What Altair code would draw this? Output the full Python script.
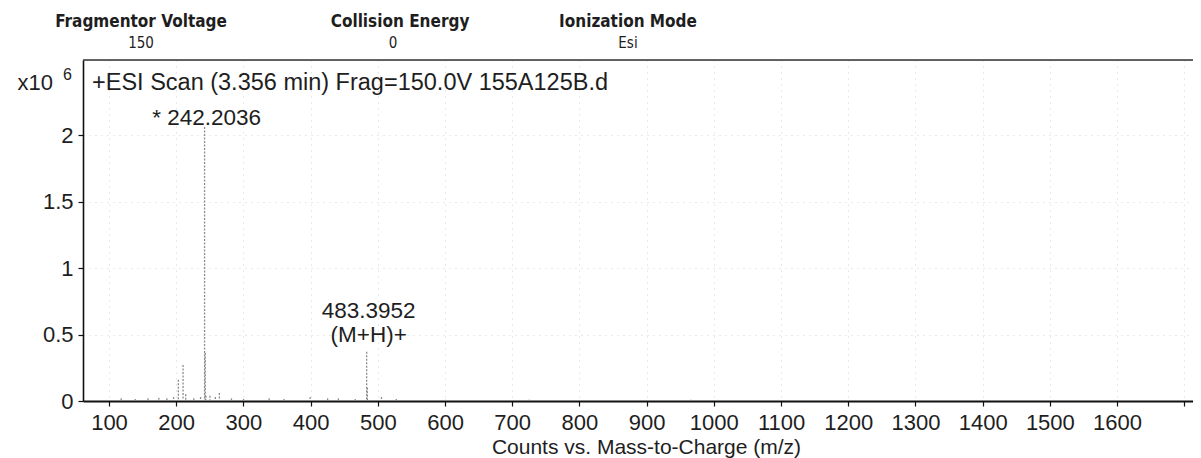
import altair as alt
import pandas as pd

# ---------------- data ----------------
# peak positions (m/z) and intensities (x10^6 counts)
peak_mz = [118.1, 139.0, 158.1, 174.1, 186.1, 196.1, 203.2, 210.2, 214.1, 226.2,
           236.2, 242.2036, 243.2, 244.2, 250.2, 258.2, 264.2, 282.2, 300.2, 338.3,
           360.3, 399.3, 425.3, 441.3, 466.3, 483.3952, 484.4, 505.4, 527.4, 600.4,
           725.5, 965.7]
peak_int = [0.02, 0.015, 0.02, 0.025, 0.02, 0.03, 0.16, 0.27, 0.05, 0.02,
            0.03, 2.06, 0.36, 0.04, 0.04, 0.03, 0.06, 0.02, 0.015, 0.02,
            0.015, 0.03, 0.02, 0.02, 0.015, 0.37, 0.10, 0.03, 0.015, 0.01,
            0.01, 0.01]

label_text = ["* 242.2036", "483.3952", "(M+H)+"]
label_mz = [242.2036, 483.3952, 483.3952]
label_int = [2.075, 0.624, 0.444]

scan_title = "+ESI Scan (3.356 min) Frag=150.0V 155A125B.d"
scan_title_mz = [74.7]
scan_title_int = [2.338]

header_names = ["Fragmentor Voltage", "Collision Energy", "Ionization Mode"]
header_values = ["150", "0", "Esi"]

x_ticks = list(range(100, 1800, 100))
y_ticks = [0, 0.5, 1, 1.5, 2]
x_domain = [61.3, 1713.0]
y_domain = [0, 2.564]

# ---------------- layout / style ----------------
W, H = 1110, 341
header_x = [58, 317, 545]
value_x = [58, 310, 545]
SANS = "Liberation Sans"
COND = "DejaVu Sans Condensed"
INK = "#1e1e1e"

peaks_df = pd.DataFrame({"mz": peak_mz, "intensity": peak_int})
labels_df = pd.DataFrame({"mz": label_mz, "intensity": label_int, "text": label_text})
title_df = pd.DataFrame({"mz": scan_title_mz, "intensity": scan_title_int, "text": [scan_title]})
one_row = pd.DataFrame({"k": [0]})

xscale = alt.Scale(domain=x_domain, nice=False, zero=False)
yscale = alt.Scale(domain=y_domain, nice=False, zero=False)

x_axis = alt.Axis(
    values=x_ticks, format="d",
    labelExpr="datum.value <= 1600 ? datum.label : ''",
    title="Counts vs. Mass-to-Charge (m/z)",
    titleFont=SANS, titleFontSize=21, titleFontWeight="normal", titleColor=INK,
    titleX=563, titleY=52, titleBaseline="alphabetic", titleAnchor="start", titleAlign="center",
    labelFont=SANS, labelFontSize=22, labelColor=INK, labelPadding=6,
    labelFlush=False, labelOverlap=False,
    tickSize=5, tickColor="#111", tickWidth=1.2,
    domainColor="#111", domainWidth=2,
    grid=True, gridColor="#d4d4d4", gridDash=[1, 5], gridWidth=1,
)
y_axis = alt.Axis(
    values=y_ticks, format="~g", title=None,
    labelFont=SANS, labelFontSize=22, labelColor=INK, labelPadding=5,
    labelFlush=False,
    tickSize=5, tickColor="#111", tickWidth=1.2,
    domainColor="#111", domainWidth=1.6,
    grid=True, gridColor="#d4d4d4", gridDash=[1, 5], gridWidth=1,
)

peaks = alt.Chart(peaks_df).mark_rule(color="#8c8c8c", strokeWidth=1.3, strokeDash=[2, 1.5]).encode(
    x=alt.X("mz:Q", scale=xscale, axis=x_axis),
    y=alt.Y("intensity:Q", scale=yscale, axis=y_axis),
    y2=alt.datum(0),
)

top_border = alt.Chart(one_row).mark_rule(color="#333", strokeWidth=1.6).encode(
    y=alt.datum(y_domain[1])
)

peak_labels = alt.Chart(labels_df).mark_text(
    font=SANS, fontSize=22.5, color=INK, align="center", baseline="alphabetic", dx=2
).encode(x="mz:Q", y="intensity:Q", text="text:N")

scan_text = alt.Chart(title_df).mark_text(
    font=SANS, fontSize=23.5, color=INK, align="left", baseline="alphabetic"
).encode(x="mz:Q", y="intensity:Q", text="text:N")

exp_a = alt.Chart(one_row).mark_text(
    text="x10", font=SANS, fontSize=22, color=INK, align="right", baseline="alphabetic"
).encode(x=alt.value(-30), y=alt.value(30))
exp_b = alt.Chart(one_row).mark_text(
    text="6", font=SANS, fontSize=16, color=INK, align="left", baseline="alphabetic"
).encode(x=alt.value(-20), y=alt.value(20))

headers = []
for name, val, hx, vx in zip(header_names, header_values, header_x, value_x):
    headers.append(alt.Chart(one_row).mark_text(
        text=name, font=COND, fontSize=17, fontWeight="bold", color=INK,
        align="center", baseline="alphabetic").encode(x=alt.value(hx), y=alt.value(-33)))
    headers.append(alt.Chart(one_row).mark_text(
        text=val, font=COND, fontSize=15, fontWeight="normal", color=INK,
        align="center", baseline="alphabetic").encode(x=alt.value(vx), y=alt.value(-12)))

chart = alt.layer(
    peaks, top_border, peak_labels, scan_text, exp_a, exp_b, *headers
).properties(
    width=W, height=H,
    autosize=alt.AutoSizeParams(type="none"),
    padding={"left": 75, "top": 52, "right": 0, "bottom": 57},
).configure_view(stroke=None).configure(background="white")

chart.save("out.html", embed_options={"renderer": "svg", "actions": False})
